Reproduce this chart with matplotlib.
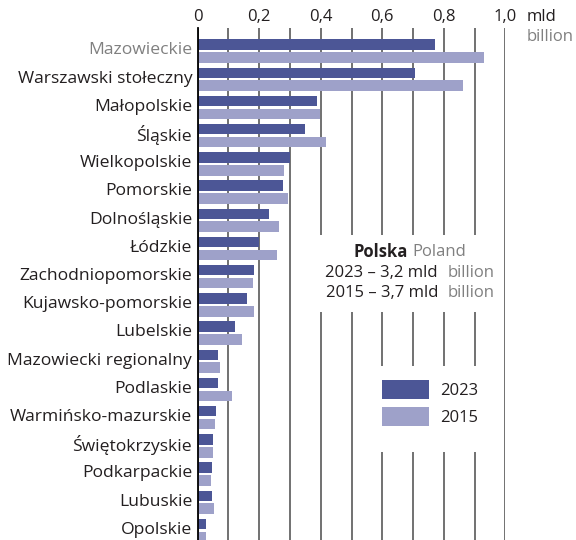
import matplotlib
matplotlib.use("Agg")
import matplotlib.pyplot as plt
from matplotlib.patches import Rectangle, Patch

plt.rcParams['font.family'] = ['Open Sans', 'DejaVu Sans']

regions = ["Mazowieckie", "Warszawski stołeczny", "Małopolskie", "Śląskie",
           "Wielkopolskie", "Pomorskie", "Dolnośląskie", "Łódzkie",
           "Zachodniopomorskie", "Kujawsko-pomorskie", "Lubelskie",
           "Mazowiecki regionalny", "Podlaskie", "Warmińsko-mazurskie",
           "Świętokrzyskie", "Podkarpackie", "Lubuskie", "Opolskie"]
v2023 = [0.771, 0.706, 0.388, 0.349, 0.300, 0.277, 0.232, 0.200, 0.182,
         0.159, 0.120, 0.066, 0.066, 0.059, 0.050, 0.046, 0.046, 0.027]
v2015 = [0.931, 0.863, 0.398, 0.417, 0.281, 0.292, 0.264, 0.258, 0.179,
         0.182, 0.144, 0.072, 0.112, 0.056, 0.050, 0.043, 0.053, 0.027]
xticks = [0, 0.1, 0.2, 0.3, 0.4, 0.5, 0.6, 0.7, 0.8, 0.9, 1.0]
xtick_labels = ["0", "", "0,2", "", "0,4", "", "0,6", "", "0,8", "", "1,0"]

c23 = "#4c5696"
c15 = "#9ea1c9"
dark = "#231f20"
grey = "#808080"
fs = 12

fig = plt.figure(figsize=(5.76, 5.4), dpi=100)
ax = fig.add_axes([197.7 / 576, 0, 307.6 / 576, 512 / 540])

y = list(range(len(regions)))
h = 0.37
ax.barh([i - 0.23 for i in y], v2023, height=h, color=c23, zorder=2)
ax.barh([i + 0.23 for i in y], v2015, height=h, color=c15, zorder=2)

ax.set_xlim(0, 1.0)
ax.set_ylim(17.34, -0.816)

ax.xaxis.tick_top()
ax.set_xticks(xticks)
ax.set_xticklabels(xtick_labels, fontsize=fs, color=dark)
ax.tick_params(axis="x", length=0, pad=2)
ax.grid(axis="x", color="#4a4a4a", lw=1.1, zorder=0.5)
ax.set_axisbelow(True)

# region names sit a touch above the middle of each pair
ax.set_yticks([i - 0.09 for i in y])
ax.set_yticklabels(regions, fontsize=12.6, color=dark)
ax.get_yticklabels()[0].set_color(grey)
ax.tick_params(axis="y", length=0, pad=4)

for s in ["top", "right", "bottom"]:
    ax.spines[s].set_visible(False)
ax.spines["left"].set_color("black")
ax.spines["left"].set_linewidth(1.3)
ax.spines["left"].set_zorder(3)

# white panels behind the total and legend blocks
ax.add_patch(Rectangle((0.35, 6.52), 0.60, 2.72, facecolor="white",
                       edgecolor="none", zorder=1))
ax.add_patch(Rectangle((0.55, 11.16), 0.40, 3.05, facecolor="white",
                       edgecolor="none", zorder=1))

# country totals
ax.text(0.684, 7.13, "Polska", ha="right", va="center", fontsize=fs,
        weight="bold", color=dark, zorder=4)
ax.text(0.698, 7.13, "Poland", ha="left", va="center", fontsize=fs,
        color=grey, zorder=4)
for yy, lab in [(7.87, "2023 – 3,2 mld"), (8.58, "2015 – 3,7 mld")]:
    ax.text(0.781, yy, lab, ha="right", va="center", fontsize=fs,
            color=dark, zorder=4)
    ax.text(0.814, yy, "billion", ha="left", va="center", fontsize=fs,
            color=grey, zorder=4)

fig.text(526.7 / 576, 1 - 16.7 / 540, "mld", ha="left", va="center",
         fontsize=fs, color=dark)
fig.text(526.7 / 576, 1 - 37 / 540, "billion", ha="left", va="center",
         fontsize=fs, color=grey)

handles = [Patch(facecolor=c23, edgecolor="none"),
           Patch(facecolor=c15, edgecolor="none")]
leg = fig.legend(handles, ["2023", "2015"], loc="upper left",
                 bbox_to_anchor=(381.7 / 576, 1 - 380 / 540),
                 frameon=False, fontsize=fs, borderpad=0, borderaxespad=0,
                 handlelength=2.82, handleheight=1.42, handletextpad=0.66,
                 labelspacing=0.44)
for txt in leg.get_texts():
    txt.set_color(dark)

fig.savefig("out.png", dpi=100)
